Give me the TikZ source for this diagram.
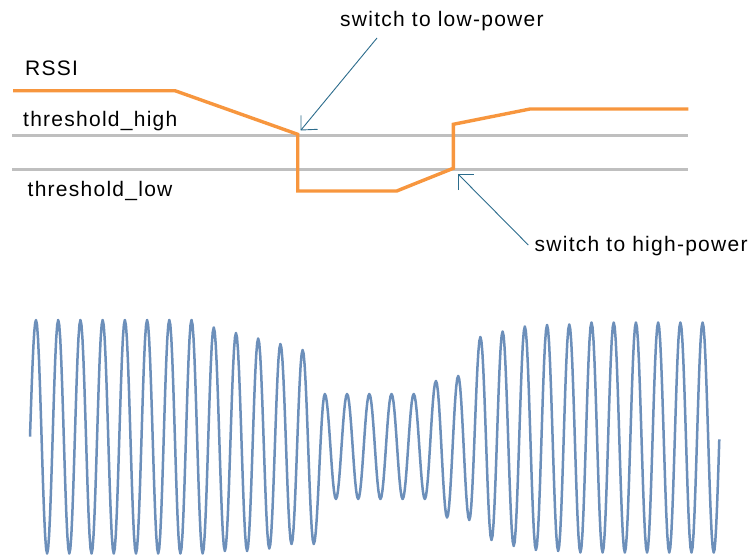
\documentclass[tikz,border=0pt]{standalone}
\usepackage{fontspec}
\setmainfont{Liberation Sans}[LetterSpace=6]
\definecolor{rssiorange}{RGB}{247,150,62}
\definecolor{thrgray}{RGB}{191,191,191}
\definecolor{wavecol}{RGB}{108,143,186}
\definecolor{arrowcol}{RGB}{44,108,140}
\begin{document}
\begin{tikzpicture}[x=1pt,y=-1pt,
  lbl/.style={anchor=base west,inner sep=0pt,font=\fontsize{21}{25}\selectfont},
  thr/.style={draw=thrgray,line width=3pt},
  rssi/.style={draw=rssiorange,line width=3.4pt,line join=miter},
  wave/.style={draw=wavecol,line width=2.5pt,line join=round},
  callout/.style={draw=arrowcol,line width=0.9pt}]
\useasboundingbox (0,0) rectangle (749,554);
% labels
\node[lbl] (rssiL) at (25,75) {RSSI};
\node[lbl] (highL) at (23,126) {threshold\_high};
\node[lbl] (lowL) at (27.5,196.5) {threshold\_low};
\node[lbl] (toLow) at (340,27) {switch to low-power};
\node[lbl] (toHigh) at (534.5,251) {switch to high-power};
% threshold lines
\coordinate (h1) at (12.3,135.7); \coordinate (h2) at (688.3,135.7);
\coordinate (l1) at (12.3,169); \coordinate (l2) at (688.3,169);
\draw[thr] (h1) -- (h2);
\draw[thr] (l1) -- (l2);
% RSSI curve
\coordinate (r0) at (13,90.7);
\coordinate (r1) at (175,90.7);
\coordinate (r2) at (297.7,134.3);
\coordinate (r3) at (297.7,191);
\coordinate (r4) at (396.7,191);
\coordinate (r5) at (453.3,168.3);
\coordinate (r6) at (453.3,124.3);
\coordinate (r7) at (530,109);
\coordinate (r8) at (688.3,109);
\draw[rssi] (r0) -- (r1) -- (r2) -- (r3) -- (r4) -- (r5) -- (r6) -- (r7) -- (r8);
% callouts
\coordinate (lowTail) at (377,38);
\coordinate (lowTip) at (301,130);
\coordinate (highTail) at (528.3,245);
\coordinate (highTip) at (458.3,174.3);
\draw[callout] (lowTail) -- (lowTip);
\draw[callout] (lowTip) ++(0,-14.7) -- (lowTip) -- ++(16.5,-0.7);
\draw[callout] (highTail) -- (highTip);
\draw[callout] (highTip) ++(0,15.7) -- (highTip) -- ++(15.7,0);
% waveform
\coordinate (w0) at (30,436.7);
\draw[wave] (w0) -- plot[domain=0:1,samples=8,variable=\t] ({30+6*\t},{436.7+(320-436.7)*sin(90*\t)})
  foreach \yy [count=\k from 1, remember=\yy as \py (initially 320)] in
  {553.5,320,553.5,320,553.5,320,553.5,320,553.5,320,553.5,320,553.5,320,553.5,
   327.5,551,333,551,338.5,548.5,344,544,350,544,
   394,499,394,499,394,499,394,499,394,499,
   381,517.5,376,520,337,540,331.5,546,326.5,550,325,551,324.5,552.5,
   322.5,552.5,322.5,552.5,322.5,552.5,322.5,552.5,322.5,552.5,322.5,552.5}
  { -- plot[domain=0:1,samples=12,variable=\t] ({36+11.11*(\k-1)+11.11*\t},{(\py+\yy)/2+(\py-\yy)/2*cos(180*\t)}) }
  -- plot[domain=0:1,samples=8,variable=\t] ({713.7+5.6*\t},{439.3+(552.5-439.3)*cos(90*\t)});
\end{tikzpicture}
\end{document}
